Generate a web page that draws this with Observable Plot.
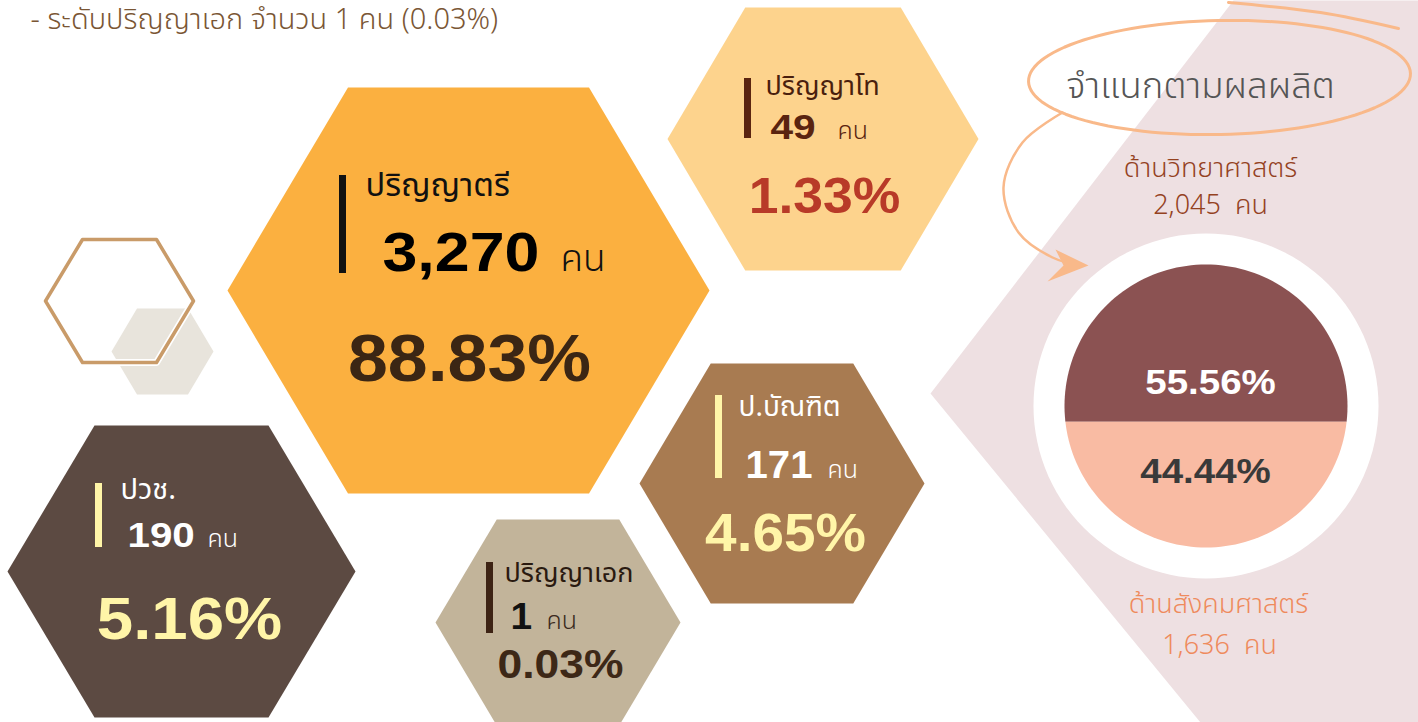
<!DOCTYPE html>
<html><head><meta charset="utf-8">
<script src="https://cdn.jsdelivr.net/npm/d3@7"></script>
<script src="https://cdn.jsdelivr.net/npm/@observablehq/plot@0.6"></script>
<style>html,body{margin:0;padding:0;background:#fff;overflow:hidden}</style>
</head><body><div id="chart"></div>
<script>
// ---------- DATA ----------
const levels = ["ปริญญาตรี", "ปริญญาโท", "ปวช.", "ป.บัณฑิต", "ปริญญาเอก"];
const levelCounts = [3270, 49, 190, 171, 1];
const levelPercents = [88.83, 1.33, 5.16, 4.65, 0.03];
const outputs = ["ด้านวิทยาศาสตร์", "ด้านสังคมศาสตร์"];
const outputCounts = [2045, 1636];
const outputPercents = [55.56, 44.44];
const heading = "จำแนกตามผลผลิต";
const unit = "คน";

// ---------- LAYOUT / STYLE ----------
const W = 1418, H = 722;
const THAI = "'Noto Sans Thai','Noto Sans Thai UI','Leelawadee UI',Loma,'Noto Sans',sans-serif";
const NUM = "'Liberation Sans',Arial,'DejaVu Sans',sans-serif";
const hexLayout = [
  {cx:468, cy:290, rx:241, ry:203, fill:"#fbb040",
   bar:{x:342,y1:175,y2:273,c:"#111"}, label:{x:365,y:195,s:32.5,c:"#111"},
   num:{x:382,y:270,s:56,c:"#000",sx:1.12}, unit:{x:560,y:270,s:37,c:"#111"}, pct:{x:469,y:380,s:67,c:"#3b2614",sx:1.07}},
  {cx:822.5, cy:138.5, rx:155.5, ry:131.5, fill:"#fdd38d",
   bar:{x:747,y1:78,y2:138,c:"#5a2410"}, label:{x:765,y:94,s:27,c:"#4a1f0e"},
   num:{x:770,y:138,s:35,c:"#5a2410",sx:1.16}, unit:{x:837,y:138,s:25,c:"#5a2410"}, pct:{x:824,y:212,s:50,c:"#b83a28",sx:1.07}},
  {cx:181, cy:571, rx:174, ry:146, fill:"#5c4a42",
   bar:{x:98,y1:483,y2:547,c:"#fff5a8"}, label:{x:120,y:498,s:29,c:"#fff"},
   num:{x:127,y:546,s:36,c:"#fff",sx:1.12}, unit:{x:207,y:546,s:25,c:"#fff"}, pct:{x:189,y:638,s:60,c:"#fff5a8",sx:1.09}},
  {cx:781.5, cy:483, rx:142.5, ry:120, fill:"#a87b51",
   bar:{x:718,y1:395,y2:478,c:"#fff5a8"}, label:{x:738,y:415,s:28,c:"#fff"},
   num:{x:745,y:477,s:39,c:"#fff",sx:1.03}, unit:{x:827,y:477,s:25,c:"#fff"}, pct:{x:785,y:550,s:53,c:"#fff5a8",sx:1.07}},
  {cx:557.5, cy:622, rx:122.5, ry:103, fill:"#c2b49a",
   bar:{x:489,y1:562,y2:633,c:"#3d2314"}, label:{x:504,y:581,s:27,c:"#2a1a10"},
   num:{x:510,y:628,s:37,c:"#111",sx:1.05}, unit:{x:546,y:628,s:25,c:"#3a2a20"}, pct:{x:560,y:677,s:40,c:"#3d2817",sx:1.11}}
];
const deco = {
  grayHex:{cx:162, cy:351, rx:51, ry:43, fill:"#e8e4dc"},
  lineHex:{cx:119, cy:300.5, rx:74, ry:61.5, stroke:"#c99b69"},
  chevron:[[1233,0],[1418,0],[1418,722],[1200,722],[930,393]],
  chevronFill:"#eee0e2",
  ring:{cx:1205.5, cy:405.5, r:172.5},
  pie:{cx:1205.5, cy:405.5, r:141.5, top:"#8b5252", bottom:"#f9bba3"},
  ellipse:{cx:1219, cy:77, rx:191, ry:57, rot:-1.2},
  tail:[[1228,2],[1320,12],[1398,28]],
  arrow:[[1062,112],[1022,142],[1003,187],[1018,232],[1052,257],[1080,265]],
  arrowHead:[[1055,249],[1088,265],[1047,281],[1063,265]],
  orange:"#f9b98a"
};

// ---------- GEOMETRY HELPERS ----------
const S60 = Math.sqrt(3) / 2;
function hexPts(h) {
  return d3.range(6).map(k => {
    const a = Math.PI / 3 * k;
    return {x: h.cx + h.rx * Math.cos(a), y: h.cy + h.ry * Math.sin(a) / S60};
  });
}
function ellipsePts(e, n) {
  const r = e.rot * Math.PI / 180;
  return d3.range(n).map(k => {
    const t = 2 * Math.PI * k / n;
    const ex = e.rx * Math.cos(t), ey = e.ry * Math.sin(t);
    return {x: e.cx + ex * Math.cos(r) - ey * Math.sin(r), y: e.cy + ex * Math.sin(r) + ey * Math.cos(r)};
  });
}
const P = a => a.map(([x, y]) => ({x, y}));
const poly = (pts, o) => Plot.line(pts, {x: "x", y: "y", curve: "linear-closed", ...o});

// pie split: top share of the diameter follows outputPercents
const pc = deco.pie;
const total = d3.sum(outputPercents);
const splitY = (pc.cy - pc.r) + 2 * pc.r * outputPercents[0] / total;
function circleHalf(upper) {
  const pts = [];
  const n = 180;
  for (let k = 0; k < n; k++) {
    const t = 2 * Math.PI * k / n;
    const x = pc.cx + pc.r * Math.cos(t), y = pc.cy + pc.r * Math.sin(t);
    if (upper ? y <= splitY : y >= splitY) pts.push({x, y});
  }
  const dx = Math.sqrt(Math.max(0, pc.r * pc.r - (splitY - pc.cy) ** 2));
  pts.push({x: pc.cx + dx, y: splitY}, {x: pc.cx - dx, y: splitY});
  pts.sort((a, b) => Math.atan2(a.y - pc.cy, a.x - pc.cx) - Math.atan2(b.y - pc.cy, b.x - pc.cx));
  return pts;
}

const stretch = new Map();
function txt(value, pos, o) {
  if (pos.sx) stretch.set(String(value), pos.sx);
  return Plot.text([value], {x: () => pos.x, y: () => pos.y, text: d => d, lineAnchor: "bottom",
    fontSize: pos.s, fill: pos.c, ...o});
}

// ---------- MARKS ----------
const fmt = d3.format(",");
const marks = [];
marks.push(poly(P(deco.chevron), {fill: deco.chevronFill, stroke: "none"}));
marks.push(poly(hexPts(deco.grayHex), {fill: deco.grayHex.fill, stroke: "none"}));
marks.push(poly(hexPts(deco.lineHex), {fill: "none", stroke: "#fff", strokeWidth: 7}));
marks.push(poly(hexPts(deco.lineHex), {fill: "none", stroke: deco.lineHex.stroke, strokeWidth: 3.5}));

levels.forEach((name, i) => {
  const L = hexLayout[i];
  marks.push(poly(hexPts(L), {fill: L.fill, stroke: "none"}));
  marks.push(Plot.ruleX([name], {x: () => L.bar.x, y1: () => L.bar.y1, y2: () => L.bar.y2, stroke: L.bar.c, strokeWidth: 7}));
  marks.push(txt(name, L.label, {textAnchor: "start", fontFamily: THAI, fontWeight: 400}));
  marks.push(txt(fmt(levelCounts[i]), L.num, {textAnchor: "start", fontFamily: NUM, fontWeight: "bold"}));
  marks.push(txt(unit, L.unit, {textAnchor: "start", fontFamily: THAI, fontWeight: 300}));
  marks.push(txt(levelPercents[i].toFixed(2) + "%", L.pct, {textAnchor: "middle", fontFamily: NUM, fontWeight: "bold"}));
});

// note line at top built from the doctorate entry
const di = levels.length - 1;
marks.push(txt(`- ระดับ${levels[di]} จำนวน ${levelCounts[di]} ${unit} (${levelPercents[di].toFixed(2)}%)`,
  {x: 30, y: 28, s: 29, c: "#7a5634"}, {textAnchor: "start", fontFamily: THAI, fontWeight: 300}));

// right panel
const rg = deco.ring;
marks.push(poly(d3.range(120).map(k => ({x: rg.cx + rg.r * Math.cos(k / 60 * Math.PI), y: rg.cy + rg.r * Math.sin(k / 60 * Math.PI)})), {fill: "#fff", stroke: "none"}));
marks.push(poly(circleHalf(true), {fill: pc.top, stroke: "none"}));
marks.push(poly(circleHalf(false), {fill: pc.bottom, stroke: "none"}));
marks.push(Plot.line(ellipsePts(deco.ellipse, 120), {x: "x", y: "y", curve: "linear-closed", stroke: deco.orange, strokeWidth: 3}));
marks.push(Plot.line(P(deco.tail), {x: "x", y: "y", curve: "natural", stroke: deco.orange, strokeWidth: 3}));
marks.push(Plot.line(P(deco.arrow), {x: "x", y: "y", curve: "catmull-rom", stroke: deco.orange, strokeWidth: 2.5}));
marks.push(poly(P(deco.arrowHead), {fill: deco.orange, stroke: "none"}));

marks.push(txt(heading, {x: 1200, y: 97, s: 36.5, c: "#555"}, {textAnchor: "middle", fontFamily: THAI, fontWeight: 300}));
marks.push(txt(outputs[0], {x: 1210, y: 176, s: 27, c: "#94421f"}, {textAnchor: "middle", fontFamily: THAI, fontWeight: 300}));
marks.push(txt(`${fmt(outputCounts[0])}  ${unit}`, {x: 1210, y: 213, s: 27, c: "#94421f"}, {textAnchor: "middle", fontFamily: THAI, fontWeight: 300}));
marks.push(txt(outputPercents[0].toFixed(2) + "%", {x: 1210, y: 393, s: 35, c: "#fff", sx: 1.1}, {textAnchor: "middle", fontFamily: NUM, fontWeight: "bold"}));
marks.push(txt(outputPercents[1].toFixed(2) + "%", {x: 1205, y: 482, s: 35, c: "#3a3a3a", sx: 1.1}, {textAnchor: "middle", fontFamily: NUM, fontWeight: "bold"}));
marks.push(txt(outputs[1], {x: 1218, y: 612, s: 27, c: "#ef8a5c"}, {textAnchor: "middle", fontFamily: THAI, fontWeight: 300}));
marks.push(txt(`${fmt(outputCounts[1])}  ${unit}`, {x: 1219, y: 653, s: 27, c: "#ef8a5c"}, {textAnchor: "middle", fontFamily: THAI, fontWeight: 300}));

const chart = Plot.plot({
  width: W, height: H,
  margin: 0,
  x: {domain: [0, W], range: [0, W], axis: null},
  y: {domain: [0, H], range: [0, H], axis: null},
  style: {background: "#fff", overflow: "hidden"},
  marks
});
document.getElementById("chart").append(chart);

// widen the bold numerals horizontally around their anchor (reference glyphs are stretched)
chart.querySelectorAll("text").forEach(t => {
  const s = stretch.get(t.textContent);
  const tr = t.getAttribute("transform");
  if (s && tr && tr.includes("translate")) t.setAttribute("transform", `${tr} scale(${s},1)`);
});
</script>
</body></html>
